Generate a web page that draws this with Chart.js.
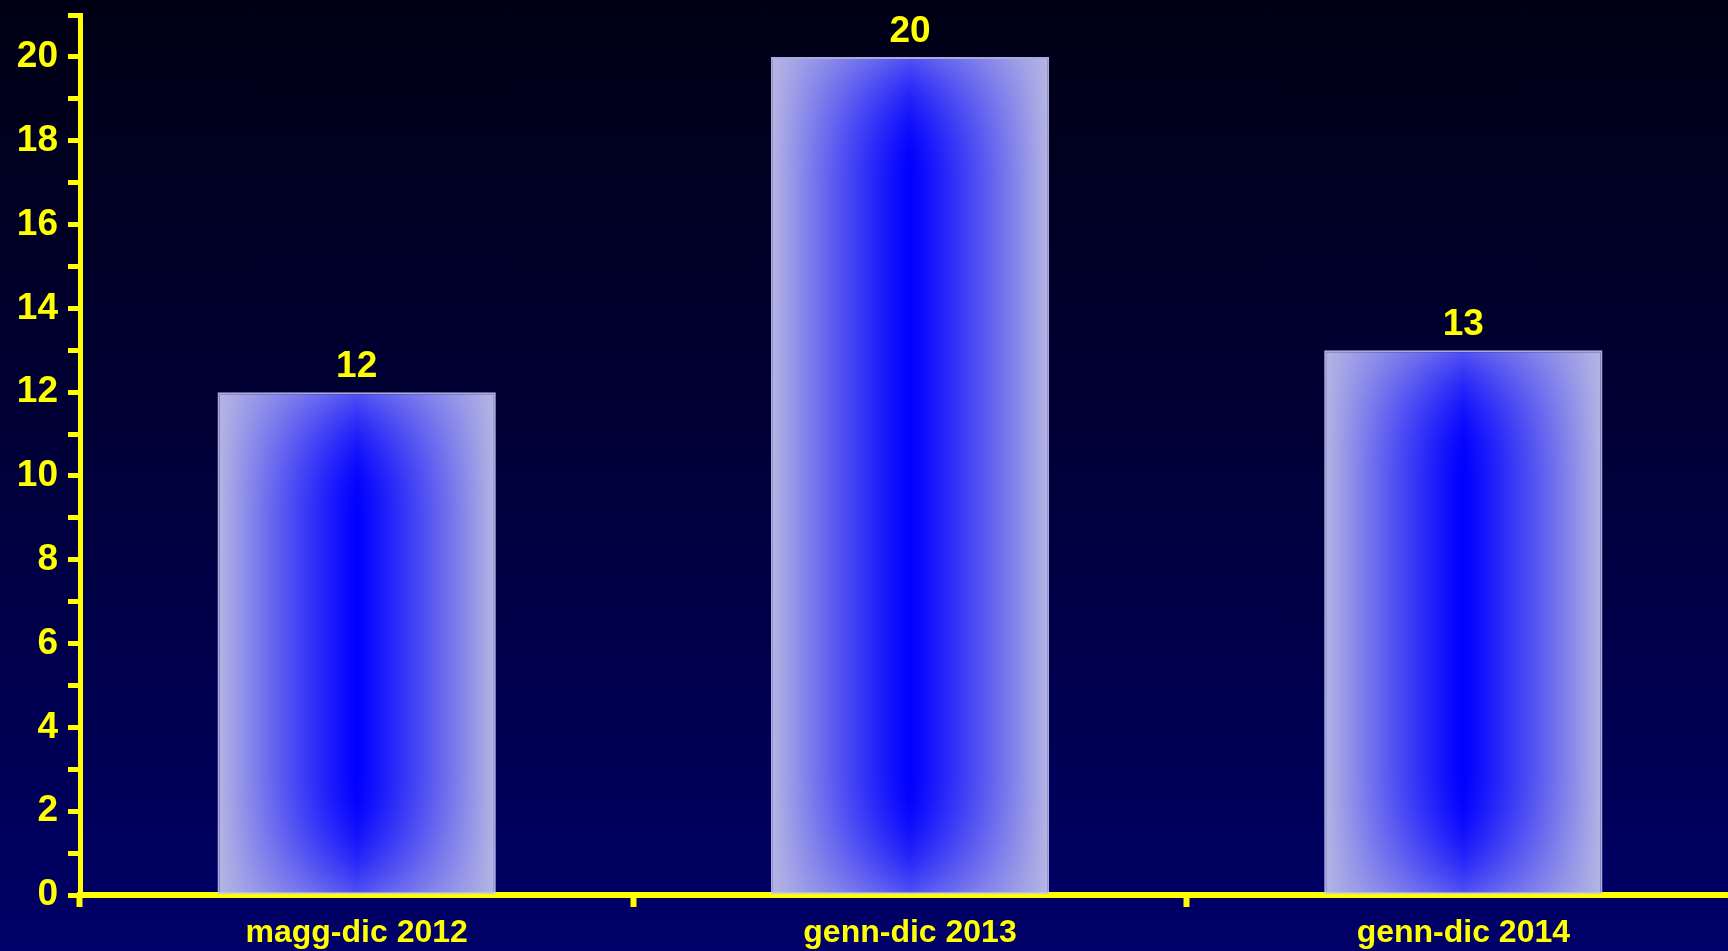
<!DOCTYPE html>
<html>
<head>
<meta charset="utf-8">
<script src="https://cdn.jsdelivr.net/npm/chart.js@4/dist/chart.umd.min.js"></script>
<style>
  html, body { margin: 0; padding: 0; overflow: hidden; width: 1728px; height: 951px; background: #000040; }
  #wrap {
    position: absolute; left: 0; top: 0; width: 1740px; height: 951px;
    background: linear-gradient(to bottom, #000014 0%, #000036 45%, #000068 100%);
  }
</style>
</head>
<body>
<div id="wrap"><canvas id="chart"></canvas></div>
<script>
// Periods and counts
const categories = ['magg-dic 2012', 'genn-dic 2013', 'genn-dic 2014'];
const values = [12, 20, 13];

// Value axis: 0..21, a tick every unit, a label every second unit
const yMin = 0;
const yMax = 21;
const yStep = 1;
const yLabelEvery = 2;

const YELLOW = '#ffff00';
const FONT = '"Liberation Sans", Arial, sans-serif';

// Shaded bar fill: saturated blue down the middle, fading to pale lavender at the sides
const patternCache = {};
function barFill(ctx) {
  if (ctx.type !== 'data') return '#0000ff';
  const chart = ctx.chart;
  const xs = chart.scales.x, ys = chart.scales.y;
  if (!xs || !ys || !xs.width) return '#0000ff';
  const i = ctx.dataIndex;
  const catW = xs.width / categories.length;
  const w = Math.max(2, Math.round(catW * 0.503));
  const top = ys.getPixelForValue(values[i]);
  const base = ys.getPixelForValue(0);
  const h = Math.max(2, Math.round(base - top));
  const left = xs.getPixelForValue(i) - w / 2;
  const key = i + ':' + w + ':' + h;
  let entry = patternCache[key];
  if (!entry) {
    const off = document.createElement('canvas');
    off.width = w; off.height = h;
    const octx = off.getContext('2d');
    const img = octx.createImageData(w, h);
    const d = img.data;
    const fade = 0.45 * w;
    for (let y = 0; y < h; y++) {
      const dyE = Math.min(y, h - 1 - y);
      const e = dyE < fade ? (1 - dyE / fade) : 0;
      for (let x = 0; x < w; x++) {
        const u = Math.abs(x + 0.5 - w / 2) / (w / 2);
        let t = u + 0.5 * e * e * (1 - u);
        if (t > 1) t = 1;
        const tt = Math.pow(t, 1.15);
        const p = (y * w + x) * 4;
        d[p] = 182 * tt;
        d[p + 1] = 182 * tt;
        d[p + 2] = 255 - 28 * tt;
        d[p + 3] = 255;
      }
    }
    octx.putImageData(img, 0, 0);
    entry = patternCache[key] = { canvas: off };
  }
  const pat = chart.ctx.createPattern(entry.canvas, 'no-repeat');
  pat.setTransform(new DOMMatrix([1, 0, 0, 1, left, top]));
  return pat;
}

// Value labels above each bar
const valueLabels = {
  id: 'valueLabels',
  afterDatasetsDraw(chart) {
    const meta = chart.getDatasetMeta(0);
    const c = chart.ctx;
    c.save();
    c.fillStyle = YELLOW;
    c.font = 'bold 37px ' + FONT;
    c.textAlign = 'center';
    c.textBaseline = 'alphabetic';
    meta.data.forEach((bar, i) => {
      c.fillText(String(values[i]), bar.x, bar.y - 15);
    });
    c.restore();
  }
};

new Chart(document.getElementById('chart'), {
  type: 'bar',
  data: {
    labels: categories,
    datasets: [{
      data: values,
      backgroundColor: barFill,
      borderColor: 'rgba(200,200,255,0.85)',
      borderWidth: 2,
      borderSkipped: false,
      categoryPercentage: 1,
      barPercentage: 0.503
    }]
  },
  options: {
    responsive: true,
    maintainAspectRatio: false,
    animation: false,
    events: [],
    layout: { padding: { top: 15, left: 0, right: 0, bottom: 0 } },
    plugins: {
      legend: { display: false },
      tooltip: { enabled: false }
    },
    scales: {
      x: {
        z: 1,
        offset: true,
        grid: {
          offset: true,
          drawOnChartArea: false,
          drawTicks: true,
          tickLength: 12,
          tickWidth: 6,
          tickColor: YELLOW
        },
        border: { display: true, color: YELLOW, width: 6 },
        ticks: {
          color: YELLOW,
          font: { family: FONT, size: 32, weight: 'bold' },
          padding: 7,
          maxRotation: 0,
          autoSkip: false
        },
        afterFit(scale) {
          scale.height = 56;
          scale.paddingLeft = 0;
          scale.paddingRight = 0;
        }
      },
      y: {
        z: 1,
        min: yMin,
        max: yMax,
        grid: {
          drawOnChartArea: false,
          drawTicks: true,
          tickLength: 12,
          tickWidth: 5,
          tickColor: YELLOW
        },
        border: { display: true, color: YELLOW, width: 5 },
        ticks: {
          stepSize: yStep,
          autoSkip: false,
          color: YELLOW,
          padding: 10,
          font: { family: FONT, size: 37, weight: 'bold' },
          callback: (v) => (v % yLabelEvery === 0 ? String(v) : '')
        },
        afterFit(scale) {
          scale.width = 80;
          scale.paddingTop = 0;
          scale.paddingBottom = 0;
        }
      }
    }
  },
  plugins: [valueLabels]
});
</script>
</body>
</html>
